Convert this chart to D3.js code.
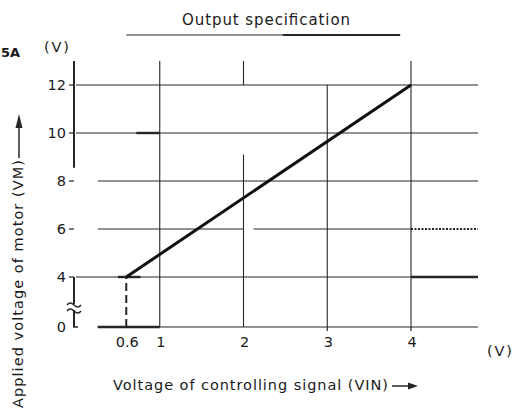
<!DOCTYPE html>
<html>
<head>
<meta charset="utf-8">
<script src="https://cdn.jsdelivr.net/npm/d3@7"></script>
<style>
  body { margin: 0; background: #fff; }
  svg text { font-family: "DejaVu Sans", "Liberation Sans", sans-serif; fill: #1a1a1a; }
</style>
</head>
<body>
<div id="chart"></div>
<script>
// values (VIN in V, VM in V)
const xTicks = [0.6, 1, 2, 3, 4];
const xTickLabels = ["0.6", "1", "2", "3", "4"];
const yTicks = [0, 4, 6, 8, 10, 12];
const characteristic = [[0.6, 4], [4, 12]];   // VIN -> VM
const thresholdVin = 0.6;
const specRange = [0.6, 3.87];                 // "Output specification" bar
const specRangeBold = [2.47, 3.87];

// grid pieces as they appear in the figure (some are broken in the print)
const hGrid = [
  { v: 12, from: 0, to: 4.8 },
  { v: 10, from: 0, to: 4.8 },
  { v: 8, from: 0.26, to: 4.8 },
  { v: 6, from: 0.26, to: 2.0 },
  { v: 6, from: 2.12, to: 4 },
  { v: 4, from: 0, to: 4.8 },
  { v: 0, from: 0.26, to: 4.8 }
];
const vGrid = [
  { v: 1, from: 0, to: 13 },
  { v: 2, from: 0, to: 9.1 },
  { v: 2, from: 12, to: 13 },
  { v: 3, from: 0, to: 12 },
  { v: 4, from: 0, to: 13 }
];
const yAxisPieces = [[0, 4], [8.55, 13]];
const boldMarks = [
  { y: 0, from: 0.26, to: 1 },
  { y: 4, from: 0.5, to: 0.77 },
  { y: 10, from: 0.72, to: 1 },
  { y: 4, from: 4, to: 4.8 }
];
const dottedMarks = [{ y: 6, from: 4, to: 4.8 }];

const W = 520, H = 415;
const svg = d3.select("#chart").append("svg")
  .attr("width", W).attr("height", H);

const x = d3.scaleLinear().domain([0, 4]).range([76, 411]);
// broken axis: 0..4 squeezed
const y = d3.scaleLinear().domain([0, 4, 12]).range([327, 277, 85]);

const ink = "#262626";

// grid
svg.selectAll(".hgrid").data(hGrid).enter().append("line")
  .attr("class", "hgrid")
  .attr("x1", d => x(d.from)).attr("x2", d => x(d.to))
  .attr("y1", d => y(d.v)).attr("y2", d => y(d.v))
  .attr("stroke", ink).attr("stroke-width", 1.1);

svg.selectAll(".vgrid").data(vGrid).enter().append("line")
  .attr("class", "vgrid")
  .attr("x1", d => x(d.v)).attr("x2", d => x(d.v))
  .attr("y1", d => y(d.from)).attr("y2", d => y(d.to))
  .attr("stroke", ink).attr("stroke-width", 1.1);

// y axis line
svg.selectAll(".yaxis").data(yAxisPieces).enter().append("line")
  .attr("x1", x(0) - 2).attr("x2", x(0) - 2)
  .attr("y1", d => y(d[0])).attr("y2", d => y(d[1]))
  .attr("stroke", ink).attr("stroke-width", 2);
svg.append("line")
  .attr("x1", x(0) - 3).attr("x2", x(0) + 2)
  .attr("y1", y(0)).attr("y2", y(0))
  .attr("stroke", ink).attr("stroke-width", 1.5);

// y ticks + labels
svg.selectAll(".ytick").data(yTicks.filter(d => d > 0)).enter().append("line")
  .attr("x1", x(0) - 7).attr("x2", x(0) - 2)
  .attr("y1", d => y(d)).attr("y2", d => y(d))
  .attr("stroke", ink).attr("stroke-width", 1.2);
svg.selectAll(".ylab").data(yTicks).enter().append("text")
  .attr("x", x(0) - 10)
  .attr("y", d => y(d))
  .attr("dy", "0.36em")
  .attr("text-anchor", "end")
  .style("font-size", "14.5px")
  .text(d => d);

// x ticks + labels
svg.selectAll(".xtick").data([3, 4]).enter().append("line")
  .attr("x1", d => x(d)).attr("x2", d => x(d))
  .attr("y1", y(0)).attr("y2", y(0) + 4)
  .attr("stroke", ink).attr("stroke-width", 1.2);
svg.selectAll(".xlab").data(xTicks).enter().append("text")
  .attr("x", d => x(d) + 1)
  .attr("y", 347)
  .attr("text-anchor", "middle")
  .style("font-size", "14.5px")
  .text((d, i) => xTickLabels[i]);

// axis break symbol
const by = 307;
svg.append("rect").attr("x", x(0) - 6).attr("y", by - 3).attr("width", 10).attr("height", 6).attr("fill", "#fff");
[by - 3, by + 3].forEach(yy => {
  svg.append("path")
    .attr("d", `M${x(0) - 9},${yy + 1} q3,-4 7,0 t7,0`)
    .attr("fill", "none").attr("stroke", ink).attr("stroke-width", 1.4);
});

// bold output marks
svg.selectAll(".bold").data(boldMarks).enter().append("line")
  .attr("x1", d => x(d.from)).attr("x2", d => x(d.to))
  .attr("y1", d => y(d.y)).attr("y2", d => y(d.y))
  .attr("stroke", ink).attr("stroke-width", 2.4);
svg.selectAll(".dotted").data(dottedMarks).enter().append("line")
  .attr("x1", d => x(d.from)).attr("x2", d => x(d.to))
  .attr("y1", d => y(d.y)).attr("y2", d => y(d.y))
  .attr("stroke", ink).attr("stroke-width", 2)
  .attr("stroke-dasharray", "2,1.5");

// threshold dashed line
svg.append("line")
  .attr("x1", x(thresholdVin)).attr("x2", x(thresholdVin))
  .attr("y1", y(0)).attr("y2", y(4))
  .attr("stroke", ink).attr("stroke-width", 2)
  .attr("stroke-dasharray", "8,4");

// characteristic line
svg.append("path")
  .datum(characteristic)
  .attr("d", d3.line().x(d => x(d[0])).y(d => y(d[1])))
  .attr("fill", "none").attr("stroke", "#111").attr("stroke-width", 3);

// output specification bar
svg.append("line")
  .attr("x1", x(specRange[0])).attr("x2", x(specRange[1]))
  .attr("y1", 35).attr("y2", 35)
  .attr("stroke", ink).attr("stroke-width", 1.2);
svg.append("line")
  .attr("x1", x(specRangeBold[0])).attr("x2", x(specRangeBold[1]))
  .attr("y1", 35).attr("y2", 35)
  .attr("stroke", ink).attr("stroke-width", 2);
svg.append("text")
  .attr("x", 182).attr("y", 25)
  .attr("textLength", 168).attr("lengthAdjust", "spacing")
  .style("font-size", "15px")
  .text("Output specification");

// unit labels
svg.append("text").attr("x", 44).attr("y", 52)
  .attr("textLength", 25).attr("lengthAdjust", "spacing")
  .style("font-size", "14.5px").text("(V)");
svg.append("text").attr("x", 487).attr("y", 356)
  .attr("textLength", 25).attr("lengthAdjust", "spacing")
  .style("font-size", "14.5px").text("(V)");
svg.append("text").attr("x", 1).attr("y", 57)
  .style("font-size", "13px").style("font-weight", "bold")
  .text("5A");

// x axis title with arrow
svg.append("text")
  .attr("x", 113).attr("y", 390)
  .attr("textLength", 275).attr("lengthAdjust", "spacing")
  .style("font-size", "14.5px")
  .text("Voltage of controlling signal (VIN)");
svg.append("line").attr("x1", 392).attr("x2", 410).attr("y1", 386).attr("y2", 386)
  .attr("stroke", ink).attr("stroke-width", 1.5);
svg.append("path").attr("d", "M418,386 L408,382.5 L408,389.5 Z").attr("fill", ink);

// y axis title with arrow
svg.append("text")
  .attr("transform", "translate(23,408) rotate(-90)")
  .attr("textLength", 248).attr("lengthAdjust", "spacing")
  .style("font-size", "14.5px")
  .text("Applied voltage of motor (VM)");
svg.append("line").attr("x1", 19).attr("x2", 19).attr("y1", 158).attr("y2", 125)
  .attr("stroke", ink).attr("stroke-width", 1.5);
svg.append("path").attr("d", "M19,114 L15.5,128 L22.5,128 Z").attr("fill", ink);
</script>
</body>
</html>
